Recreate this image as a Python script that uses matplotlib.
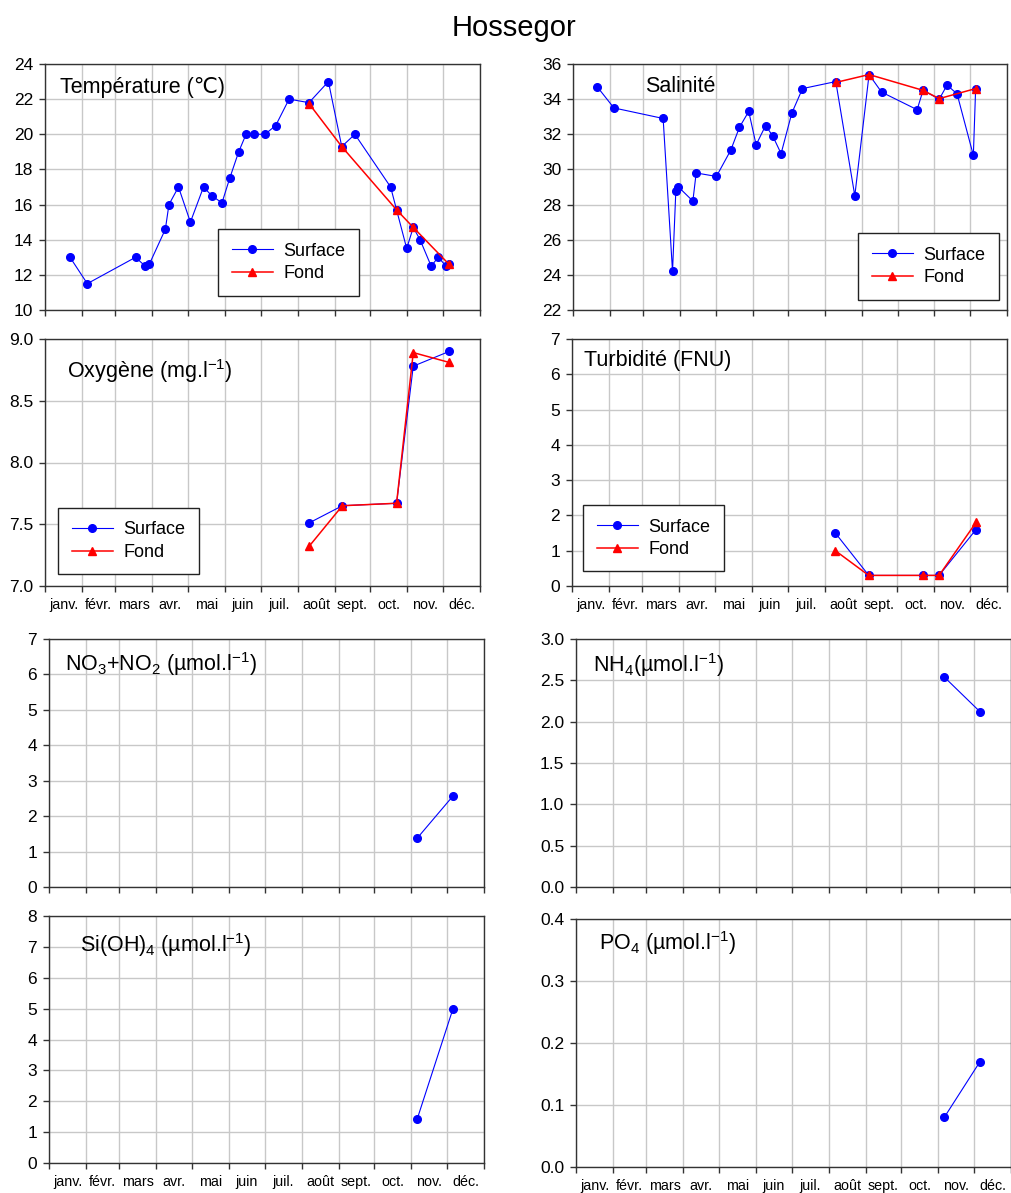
import numpy as np
import matplotlib.pyplot as plt
from matplotlib.ticker import FormatStrFormatter

plt.rcParams['font.family'] = ['Liberation Sans', 'DejaVu Sans']
plt.rcParams['mathtext.fontset'] = 'custom'
plt.rcParams['mathtext.rm'] = 'Liberation Sans'
plt.rcParams['mathtext.it'] = 'Liberation Sans'

# --- data (day of year) ---
temp_surf_day = [21, 35.5, 76, 84, 87.5, 101, 104, 112, 122, 133, 140, 148.5, 155, 162.5,
                 168.7, 175.7, 184.6, 193.6, 204.8, 221.5, 237.8, 249, 260, 290, 295,
                 303.5, 309, 314.7, 324, 330, 336.5, 339]
temp_surf = [13.0, 11.5, 13.0, 12.5, 12.6, 14.6, 16.0, 17.0, 15.0, 17.0, 16.5, 16.1, 17.5, 19.0,
             20.0, 20.0, 20.0, 20.5, 22.0, 21.8, 23.0, 19.3, 20.0, 17.0, 15.7,
             13.5, 14.7, 14.0, 12.5, 13.0, 12.5, 12.6]
temp_fond_day = [221.5, 249, 295, 309, 339]
temp_fond = [21.75, 19.3, 15.7, 14.7, 12.6]

sal_surf_day = [20.4, 34.4, 75.8, 83.7, 86.5, 88.7, 100.8, 103.6, 120.6, 132.7, 140, 147.8,
                154, 162, 168, 175, 184, 193, 221, 237, 249, 259.5, 289.4, 294.4, 308,
                314.6, 323, 336.7, 338.6]
sal_surf = [34.7, 33.5, 32.9, 24.2, 28.8, 29.0, 28.2, 29.8, 29.6, 31.1, 32.4, 33.3,
            31.4, 32.5, 31.9, 30.9, 33.2, 34.6, 35.0, 28.5, 35.4, 34.4, 33.4, 34.5, 34.0,
            34.8, 34.3, 30.8, 34.55]
sal_fond_day = [221, 249, 294.4, 308, 338.6]
sal_fond = [34.95, 35.4, 34.5, 34.03, 34.6]

oxy_day = [221.5, 249.5, 295, 309, 339.3]
oxy_surf = [7.51, 7.65, 7.67, 8.78, 8.90]
oxy_fond = [7.32, 7.65, 7.67, 8.89, 8.81]

turb_day = [221, 249, 294.5, 308, 339]
turb_surf = [1.5, 0.3, 0.3, 0.3, 1.6]
turb_fond = [1.0, 0.3, 0.3, 0.3, 1.8]

nut_day = [309, 339]
no3_surf = [1.38, 2.57]
nh4_surf = [2.54, 2.12]
si_surf = [1.43, 5.0]
po4_surf = [0.08, 0.17]

month_starts = [0, 31, 59, 90, 120, 151, 181, 212, 243, 273, 304, 334, 365]
month_names = ['janv.', 'févr.', 'mars', 'avr.', 'mai', 'juin', 'juil.',
               'août', 'sept.', 'oct.', 'nov.', 'déc.']

W, H = 1012, 1193
fig = plt.figure(figsize=(W / 100, H / 100), dpi=100)


def px_axes(l, t, r, b):
    return fig.add_axes([l / W, 1 - b / H, (r - l) / W, (b - t) / H])


def px_text(x, y, s, size=15.5, **kw):
    fig.text(x / W, 1 - y / H, s, fontsize=size, va='baseline', **kw)


def setup(ax, ylim, yticks, fmt, show_months):
    ax.set_xlim(0, 365)
    ax.set_ylim(*ylim)
    ax.set_yticks(yticks)
    ax.yaxis.set_major_formatter(FormatStrFormatter(fmt))
    ax.set_xticks(month_starts)
    ax.set_xticklabels([])
    mids = [(a + b) / 2 for a, b in zip(month_starts[:-1], month_starts[1:])]
    ax.set_xticks(mids, minor=True)
    if show_months:
        ax.set_xticklabels(month_names, minor=True, fontsize=10.3)
    ax.tick_params(which='minor', length=0, pad=8.5)
    ax.tick_params(which='major', length=4, width=1, color='#333333',
                   labelsize=12.5, pad=4.5)
    ax.grid(True, which='major', color='#c8c8c8', lw=1)
    ax.set_axisbelow(True)
    for sp in ax.spines.values():
        sp.set_color('#333333')
        sp.set_linewidth(1)


def surf(ax, x, y, label='Surface'):
    ax.plot(x, y, color='#0000ff', lw=0.8, marker='o', ms=5.5, label=label, clip_on=False)


def fond(ax, x, y):
    ax.plot(x, y, color='#ff0000', lw=1.1, marker='^', ms=5.5, label='Fond', clip_on=False)


def legend(ax, x0, ytop):
    leg = ax.legend(loc='upper left', bbox_to_anchor=(x0, ytop), borderaxespad=0,
                    fontsize=13, fancybox=False, framealpha=1, edgecolor='#222222',
                    borderpad=0.75, labelspacing=0.3, handlelength=2.3,
                    handletextpad=0.55)
    leg.get_frame().set_linewidth(1)


# Température
ax = px_axes(45, 64, 480, 310)
setup(ax, (10, 24), range(10, 25, 2), '%d', False)
surf(ax, temp_surf_day, temp_surf)
fond(ax, temp_fond_day, temp_fond)
legend(ax, 0.398, 0.329)
px_text(60, 93, 'Température (℃)')

# Salinité
ax = px_axes(573, 64, 1007, 310)
setup(ax, (22, 36), range(22, 37, 2), '%d', False)
surf(ax, sal_surf_day, sal_surf)
fond(ax, sal_fond_day, sal_fond)
legend(ax, 0.657, 0.313)
px_text(645, 92, 'Salinité')

# Oxygène
ax = px_axes(45, 339, 480, 586)
setup(ax, (7.0, 9.0), np.arange(7.0, 9.01, 0.5), '%.1f', True)
surf(ax, oxy_day, oxy_surf)
fond(ax, oxy_day, oxy_fond)
legend(ax, 0.030, 0.316)
px_text(67, 378, 'Oxygène (mg.l$^{-1}$)')

# Turbidité
ax = px_axes(572, 339, 1007, 586)
setup(ax, (0, 7), range(0, 8), '%d', True)
surf(ax, turb_day, turb_surf)
fond(ax, turb_day, turb_fond)
legend(ax, 0.0253, 0.328)
px_text(584, 366, 'Turbidité (FNU)')

# NO3 + NO2
ax = px_axes(49, 639, 484, 887)
setup(ax, (0, 7), range(0, 8), '%d', False)
surf(ax, nut_day, no3_surf)
px_text(65, 671, 'NO$_3$+NO$_2$ (µmol.l$^{-1}$)')

# NH4
ax = px_axes(576, 639, 1011, 887)
setup(ax, (0, 3), np.arange(0, 3.01, 0.5), '%.1f', False)
surf(ax, nut_day, nh4_surf)
px_text(593, 672, 'NH$_4$(µmol.l$^{-1}$)')

# Si(OH)4
ax = px_axes(49, 916, 484, 1163)
setup(ax, (0, 8), range(0, 9), '%d', True)
surf(ax, nut_day, si_surf)
px_text(80, 952, 'Si(OH)$_4$ (µmol.l$^{-1}$)')

# PO4
ax = px_axes(576, 919, 1011, 1167)
setup(ax, (0, 0.4), np.arange(0, 0.401, 0.1), '%.1f', True)
surf(ax, nut_day, po4_surf)
px_text(599, 950, 'PO$_4$ (µmol.l$^{-1}$)')

fig.text(514 / W, 1 - 28 / H, 'Hossegor', fontsize=21, ha='center', va='center')

fig.savefig('out.png', dpi=100)
